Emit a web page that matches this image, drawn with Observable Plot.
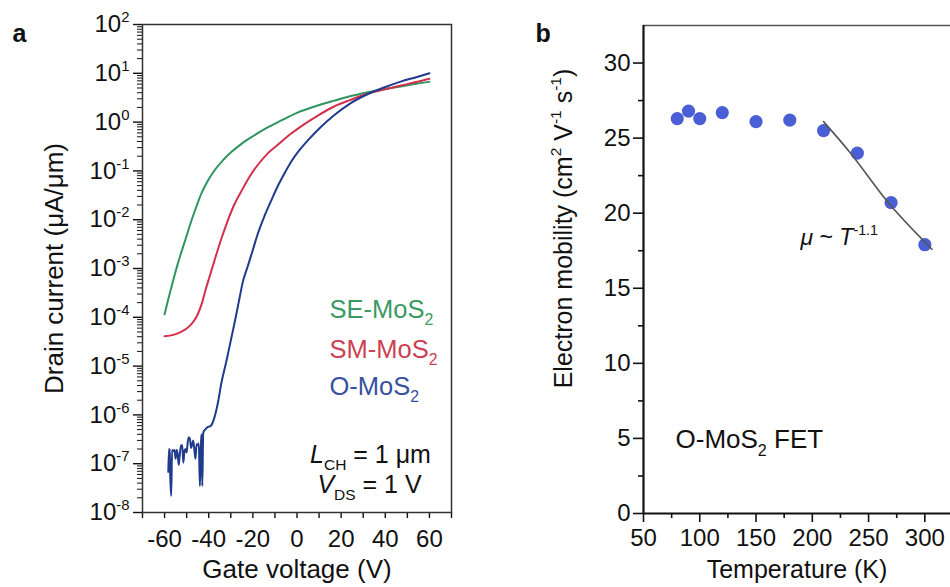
<!DOCTYPE html>
<html>
<head>
<meta charset="utf-8">
<script src="https://cdn.jsdelivr.net/npm/d3@7"></script>
<script src="https://cdn.jsdelivr.net/npm/@observablehq/plot@0.6"></script>
<style>
  html, body { margin: 0; padding: 0; background: #fff; }
  #wrap { position: relative; width: 950px; height: 587px; overflow: hidden; background: #fff; }
  #panelA { position: absolute; left: 0; top: 0; }
  #panelB { position: absolute; left: 480px; top: 0; }
</style>
</head>
<body>
<div id="wrap"><div id="panelA"></div><div id="panelB"></div></div>
<script>
// ---------- Panel a: transfer curves (Drain current vs Gate voltage) ----------
const gateVoltageSE = [-60,-58.5,-57,-55.5,-54,-52.5,-50,-48,-45.5,-43.4,-40.4,-37.4,-33.5,-29.9,-25,-20,-13.3,-7.3,0,8,16.8,24,31.9,40,47,54,60];
const currentSE = [1.15e-4,2.19e-4,3.98e-4,7.2e-4,1.26e-3,2.09e-3,4.68e-3,9.1e-3,1.91e-2,3.39e-2,6.3e-2,0.102,0.166,0.24,0.363,0.513,0.776,1.07,1.55,2.09,2.75,3.39,4.07,4.79,5.37,6.10,6.68];

const gateVoltageSM = [-60,-56,-52.5,-48.7,-46.5,-44.9,-43,-41.5,-39.7,-37.4,-34.5,-31.4,-28.5,-25.4,-21.5,-17.8,-13,-8.8,-2.8,1.7,10,16.8,24,31.9,40,47,54,60];
const currentSM = [4.07e-5,4.37e-5,5.0e-5,6.6e-5,8.7e-5,1.17e-4,2.0e-4,3.55e-4,6.6e-4,1.45e-3,3.8e-3,9.5e-3,2.0e-2,3.7e-2,7.6e-2,0.132,0.234,0.339,0.575,0.81,1.41,2.09,2.82,3.8,4.68,5.62,6.61,7.76];

const gateVoltageO = [-58.3,-58,-57.7,-57.4,-57,-56.6,-56.2,-55.5,-55,-54.5,-54,-53.6,-53.2,-52.5,-52,-51.5,-51,-50.5,-50,-49.5,-49,-48.5,-48,-47.5,-47,-46.5,-46,-45.5,-45,-44.5,-44,-43.6,-43.3,-42.9,-42.5,-42,-41.5,-41,-40.5,-39,-37.4,-35.7,-34.4,-32,-29.9,-28,-26.1,-24.6,-22.3,-20,-17.8,-14.8,-11.8,-8.8,-5.8,-2.8,1,4.8,10.8,16.8,24,31.9,40,47,54,60];
const currentO = [6.8e-8,2.0e-7,1.9e-7,5.0e-8,2.2e-8,1.9e-7,1.8e-7,1.9e-7,1.26e-7,1.9e-7,1.5e-7,9.5e-8,1.4e-7,2.4e-7,2.4e-7,1.05e-7,1.8e-7,2.0e-7,1.7e-7,2.8e-7,3.5e-7,3.2e-7,2.1e-7,2.5e-7,3.0e-7,1.9e-7,1.26e-7,2.5e-7,2.4e-7,2.6e-7,3.5e-8,2.0e-7,4.0e-7,3.5e-8,4.2e-7,4.8e-7,5.0e-7,5.4e-7,5.6e-7,6.0e-7,8.9e-7,1.9e-6,4.2e-6,1.26e-5,3.5e-5,8.9e-5,2.4e-4,5.2e-4,1.12e-3,2.4e-3,5.1e-3,1.17e-2,2.4e-2,4.8e-2,8.7e-2,0.151,0.263,0.417,0.794,1.38,2.40,3.72,5.25,6.76,8.32,10.0];

const seriesNames = ["SE-MoS_{2}", "SM-MoS_{2}", "O-MoS_{2}"];
const seriesColors = ["#2f9560", "#d3304b", "#203a8e"];
const legendColors = ["#3a9a62", "#cc4153", "#3651a0"];

const gateTicks = [-60, -40, -20, 0, 20, 40, 60];
const gateMinorTicks = [-70, -50, -30, -10, 10, 30, 50, 70];
const gateDomain = [-70, 70];
const currentDecades = [1e-8, 1e-7, 1e-6, 1e-5, 1e-4, 1e-3, 1e-2, 1e-1, 1e0, 1e1, 1e2];
const conditionTexts = ["%{L}_{CH} = 1 μm", "%{V}_{DS} = 1 V"];

// ---------- Panel b: mobility vs temperature ----------
const temperature = [80, 90, 100, 120, 150, 180, 210, 240, 270, 300];
const mobility = [26.3, 26.8, 26.3, 26.7, 26.1, 26.2, 25.5, 24.0, 20.7, 17.9];
const fitTemperature = [210, 234, 266.5, 306.4];
const fitMobility = [26.1, 24.0, 20.8, 17.6];
const tempTicks = [50, 100, 150, 200, 250, 300];
const tempMinorTicks = [75, 125, 175, 225, 275];
const mobilityTicks = [0, 5, 10, 15, 20, 25, 30];
const mobilityMinorTicks = [2.5, 7.5, 12.5, 17.5, 22.5, 27.5];
const tempDomain = [50, 322.8];
const mobilityDomain = [0, 32.5];

const fontFamily = '"Liberation Sans", Arial, Helvetica, sans-serif';
const minorLog = [];
for (const dec of currentDecades.slice(0, -1)) for (let k = 2; k <= 9; k++) minorLog.push(k * dec);

const plotA = Plot.plot({
  width: 480, height: 587,
  marginLeft: 142, marginRight: 29, marginTop: 24, marginBottom: 75,
  style: {fontFamily, fontSize: "24px", color: "#111", background: "#fff", overflow: "visible"},
  x: {domain: gateDomain},
  y: {type: "log", domain: [1e-8, 1e2]},
  marks: [
    Plot.axisX({ticks: gateTicks, tickFormat: d => String(d), tickSize: 6, tickPadding: 11, label: null, strokeWidth: 1.4}),
    Plot.axisX({ticks: gateMinorTicks, tickFormat: () => "", tickSize: 6, label: null, strokeWidth: 1.4}),
    Plot.axisY({ticks: currentDecades, tickFormat: d => `10^{${Math.round(Math.log10(d))}}`, tickSize: 9, tickPadding: 4, label: null, strokeWidth: 1.4}),
    Plot.axisY({ticks: minorLog, tickFormat: () => "", tickSize: 5, label: null, strokeWidth: 1}),
    Plot.line(gateVoltageSE, {x: gateVoltageSE, y: currentSE, stroke: seriesColors[0], strokeWidth: 2, curve: "monotone-x"}),
    Plot.line(gateVoltageSM, {x: gateVoltageSM, y: currentSM, stroke: seriesColors[1], strokeWidth: 2, curve: "monotone-x"}),
    Plot.line(gateVoltageO, {x: gateVoltageO, y: currentO, stroke: seriesColors[2], strokeWidth: 2, curve: "monotone-x"}),
    Plot.frame({stroke: "#333", strokeWidth: 1.5}),
    // legend and conditions (positions in pixels from the frame's top-left corner)
    Plot.text([seriesNames[0]], {text: d => d, frameAnchor: "top-left", dx: 187, dy: 285, textAnchor: "start", lineAnchor: "middle", fontSize: 25.5, fill: legendColors[0]}),
    Plot.text([seriesNames[1]], {text: d => d, frameAnchor: "top-left", dx: 187, dy: 325, textAnchor: "start", lineAnchor: "middle", fontSize: 25.5, fill: legendColors[1]}),
    Plot.text([seriesNames[2]], {text: d => d, frameAnchor: "top-left", dx: 187, dy: 362, textAnchor: "start", lineAnchor: "middle", fontSize: 25.5, fill: legendColors[2]}),
    Plot.text([conditionTexts[0]], {text: d => d, frameAnchor: "top-left", dx: 228, dy: 430, textAnchor: "middle", lineAnchor: "middle", fontSize: 25, fill: "#111"}),
    Plot.text([conditionTexts[1]], {text: d => d, frameAnchor: "top-left", dx: 227, dy: 460, textAnchor: "middle", lineAnchor: "middle", fontSize: 25, fill: "#111"}),
    Plot.text(["Gate voltage (V)"], {text: d => d, frameAnchor: "bottom", dy: 57, textAnchor: "middle", lineAnchor: "middle", fontSize: 26, fill: "#111"}),
    Plot.text(["Drain current (μA/μm)"], {text: d => d, frameAnchor: "left", dx: -88, rotate: -90, textAnchor: "middle", lineAnchor: "middle", fontSize: 26, fill: "#111"}),
    Plot.text(["a"], {text: d => d, frameAnchor: "top-left", dx: -130, dy: 9, textAnchor: "start", lineAnchor: "middle", fontSize: 25, fontWeight: "bold", fill: "#111"})
  ]
});
document.getElementById("panelA").appendChild(plotA);

const plotB = Plot.plot({
  width: 470, height: 587,
  marginLeft: 163, marginRight: 0, marginTop: 25, marginBottom: 74,
  style: {fontFamily, fontSize: "24px", color: "#111", background: "#fff", overflow: "visible"},
  x: {domain: tempDomain},
  y: {domain: mobilityDomain},
  marks: [
    Plot.axisX({ticks: tempTicks, tickFormat: d => String(d), tickSize: 9, tickPadding: 6, label: null, strokeWidth: 1.6}),
    Plot.axisX({ticks: tempMinorTicks, tickFormat: () => "", tickSize: 5, label: null, strokeWidth: 1.6}),
    Plot.axisY({ticks: mobilityTicks, tickFormat: d => String(d), tickSize: 10, tickPadding: 3, label: null, strokeWidth: 1.6}),
    Plot.axisY({ticks: mobilityMinorTicks, tickFormat: () => "", tickSize: 5, label: null, strokeWidth: 1.6}),
    Plot.ruleY([mobilityDomain[1]], {stroke: "#555", strokeWidth: 1.6}),
    Plot.ruleX([tempDomain[0]], {stroke: "#111", strokeWidth: 2.2}),
    Plot.ruleY([mobilityDomain[0]], {stroke: "#111", strokeWidth: 2.2}),
    Plot.dot(temperature, {x: temperature, y: mobility, r: 6.6, fill: "#4a5fd6", stroke: "none"}),
    Plot.line(fitTemperature, {x: fitTemperature, y: fitMobility, stroke: "#555", strokeWidth: 1.6, curve: "monotone-x"}),
    Plot.text(["Temperature (K)"], {text: d => d, frameAnchor: "bottom", dy: 56, textAnchor: "middle", lineAnchor: "middle", fontSize: 25, fill: "#111"}),
    Plot.text(["Electron mobility (cm^{2} V^{-1} s^{-1})"], {text: d => d, frameAnchor: "left", dx: -80, dy: -41, rotate: -90, textAnchor: "middle", lineAnchor: "middle", fontSize: 25, fill: "#111"}),
    Plot.text(["b"], {text: d => d, frameAnchor: "top-left", dx: -108, dy: 8, textAnchor: "start", lineAnchor: "middle", fontSize: 25, fontWeight: "bold", fill: "#111"}),
    Plot.text(["O-MoS_{2} FET"], {text: d => d, frameAnchor: "top-left", dx: 32, dy: 414, textAnchor: "start", lineAnchor: "middle", fontSize: 26, fill: "#111"}),
    Plot.text(["%{μ} ~ %{T}^{-1.1}"], {text: d => d, frameAnchor: "top-left", dx: 157, dy: 212, textAnchor: "start", lineAnchor: "middle", fontSize: 23, fill: "#111"})
  ]
});
document.getElementById("panelB").appendChild(plotB);

// ---------- rich text: ^{sup}, _{sub}, %{italic} ----------
function richify(svg) {
  const ns = "http://www.w3.org/2000/svg";
  svg.querySelectorAll("text").forEach(el => {
    const s = el.textContent;
    if (!/[_^%]\{/.test(s)) return;
    const fs = parseFloat(getComputedStyle(el).fontSize) || 20;
    while (el.firstChild) el.removeChild(el.firstChild);
    let shift = 0;
    const add = (txt, kind) => {
      if (!txt) return;
      const t = document.createElementNS(ns, "tspan");
      t.textContent = txt;
      let target = 0;
      if (kind === "^") { t.setAttribute("font-size", (fs * 0.62).toFixed(1)); target = -0.42 * fs; }
      else if (kind === "_") { t.setAttribute("font-size", (fs * 0.62).toFixed(1)); target = 0.3 * fs; }
      else if (kind === "%") { t.setAttribute("font-style", "italic"); }
      if (target !== shift) { t.setAttribute("dy", (target - shift).toFixed(2)); shift = target; }
      el.appendChild(t);
    };
    const re = /([_^%])\{([^}]*)\}/g;
    let last = 0, m;
    while ((m = re.exec(s))) {
      add(s.slice(last, m.index), "");
      add(m[2], m[1]);
      last = re.lastIndex;
    }
    add(s.slice(last), "");
  });
}
richify(plotA);
richify(plotB);
</script>
</body>
</html>
